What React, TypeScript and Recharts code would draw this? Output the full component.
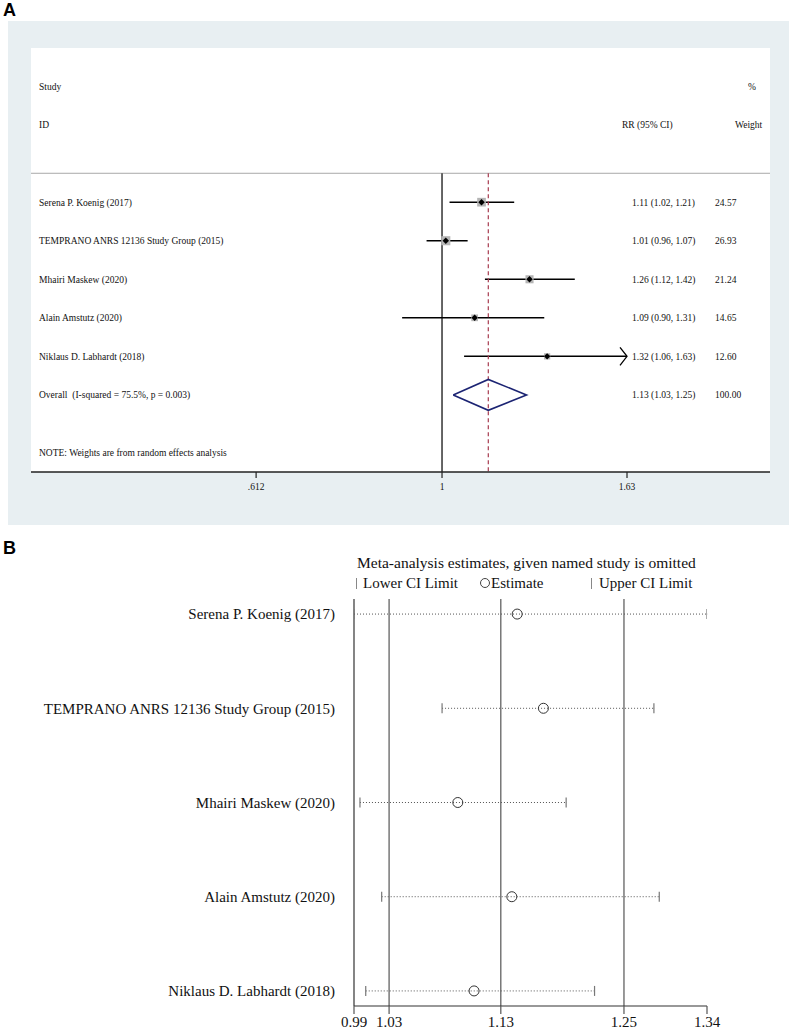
import React from "react";
import {
  ScatterChart,
  Scatter,
  XAxis,
  YAxis,
  ReferenceLine,
  ErrorBar,
  Legend,
} from "recharts";

const SERIF = '"Liberation Serif", "Times New Roman", serif';
const SANS = '"Liberation Sans", Arial, sans-serif';

// ---- panel A: forest plot ----
const studies = [
  "Serena P. Koenig (2017)",
  "TEMPRANO ANRS 12136 Study Group (2015)",
  "Mhairi Maskew (2020)",
  "Alain Amstutz (2020)",
  "Niklaus D. Labhardt (2018)",
];
const rr = [1.11, 1.01, 1.26, 1.09, 1.32];
const rrLower = [1.02, 0.96, 1.12, 0.9, 1.06];
const rrUpper = [1.21, 1.07, 1.42, 1.31, 1.63];
const weights = [24.57, 26.93, 21.24, 14.65, 12.6];

const overallRR = 1.13;
const overallLower = 1.03;
const overallUpper = 1.25;
const overallLabel = "Overall  (I-squared = 75.5%, p = 0.003)";
const noteText = "NOTE: Weights are from random effects analysis";

const forestTicks = [0.612, 1, 1.63];
const forestDomain = [0.3377, 2.378];

// ---- panel B: leave-one-out ----
const omitEstimate = [1.1507, 1.1762, 1.093, 1.1455, 1.1088];
const omitLower = [0.9921, 1.0777, 0.9979, 1.019, 1.0035];
const omitUpper = [1.3352, 1.2836, 1.1983, 1.2888, 1.2259];
const pooledB = [1.0262, 1.1348, 1.2545];

const COL = { left: 39, ci: 632, wt: 715, ciHead: 622, wtHead: 735, pct: 748 };

const fmtCI = (e: number, l: number, u: number) =>
  `${e.toFixed(2)} (${l.toFixed(2)}, ${u.toFixed(2)})`;

const overallRow = studies.length + 1;

const forestRows = studies.map((_, i) => ({
  x: rr[i],
  y: i + 1,
  w: weights[i],
  err: [rr[i] - rrLower[i], rrUpper[i] - rr[i]],
}));

const textRows: any[] = [
  { x: 1, y: -2, left: "Study", pct: "%" },
  { x: 1, y: -1, left: "ID", ciHead: "RR (95% CI)", wtHead: "Weight" },
  ...studies.map((name, i) => ({
    x: 1,
    y: i + 1,
    left: name,
    ci: fmtCI(rr[i], rrLower[i], rrUpper[i]),
    wt: weights[i].toFixed(2),
  })),
  {
    x: 1,
    y: overallRow,
    left: overallLabel,
    ci: fmtCI(overallRR, overallLower, overallUpper),
    wt: "100.00",
  },
  { x: 1, y: overallRow + 1.5, left: noteText },
];

const arrowPts = forestRows
  .filter((r, i) => rrUpper[i] >= forestTicks[forestTicks.length - 1])
  .map((r) => ({ x: r.x + r.err[1], y: r.y }));

const dh = 0.4;
const diamondPts = [
  { x: overallLower, y: overallRow },
  { x: overallRR, y: overallRow - dh },
  { x: overallUpper, y: overallRow },
  { x: overallRR, y: overallRow + dh },
  { x: overallLower, y: overallRow },
];

const omitRows = studies.map((_, i) => ({
  x: omitEstimate[i],
  y: i + 1,
  err: [omitEstimate[i] - omitLower[i], omitUpper[i] - omitEstimate[i]],
}));
const capPts = studies.flatMap((_, i) => [
  { x: omitLower[i], y: i + 1 },
  { x: omitUpper[i], y: i + 1 },
]);
const bDomain = [Math.min(...omitLower), Math.max(...omitUpper)];
const bTicks = [bDomain[0], ...pooledB, bDomain[1]];

const fmtForestTick = (v: number) =>
  v < 1 ? String(v).replace(/^0/, "") : String(v);

const TextRow = (p: any) => {
  const d = p.payload;
  const cols = ["left", "ci", "wt", "ciHead", "wtHead", "pct"] as const;
  return (
    <g fontFamily={SERIF} fontSize={9.5} fill="#111">
      {cols.map((k) =>
        d[k] ? (
          <text key={k} x={COL[k]} y={p.cy} dy="0.35em" xmlSpace="preserve">
            {d[k]}
          </text>
        ) : null
      )}
    </g>
  );
};

const StudyBox = (p: any) => {
  const s = 1.75 * Math.sqrt(p.payload.w);
  const d = 3.2;
  return (
    <g>
      <rect x={p.cx - s / 2} y={p.cy - s / 2} width={s} height={s} fill="#b5b5b5" />
      <path
        d={`M${p.cx - d},${p.cy} L${p.cx},${p.cy - d} L${p.cx + d},${p.cy} L${p.cx},${p.cy + d} Z`}
        fill="#000"
      />
    </g>
  );
};

const Arrowhead = (p: any) => (
  <path
    d={`M${p.cx - 7},${p.cy - 9} L${p.cx},${p.cy} L${p.cx - 7},${p.cy + 9}`}
    fill="none"
    stroke="#000"
    strokeWidth={1.3}
  />
);

const Empty = () => <g />;

const OpenCircle = (p: any) => (
  <circle cx={p.cx} cy={p.cy} r={5} fill="none" stroke="#333" strokeWidth={1} />
);

const CapTick = (p: any) => (
  <line x1={p.cx} x2={p.cx} y1={p.cy - 5} y2={p.cy + 5} stroke="#777" strokeWidth={1.2} />
);

const StudyTick = (p: any) => (
  <text
    x={p.x}
    y={p.y}
    dy="0.35em"
    textAnchor="end"
    fontFamily={SERIF}
    fontSize={15}
    fill="#111"
  >
    {studies[p.payload.value - 1]}
  </text>
);

const LegendBox = () => (
  <div
    style={{
      position: "relative",
      width: 789,
      height: 70,
      fontFamily: SERIF,
      fontSize: 15,
      color: "#111",
      lineHeight: "20px",
      whiteSpace: "nowrap",
    }}
  >
    <div style={{ position: "absolute", left: 357, top: 23, fontSize: 15.5 }}>
      Meta-analysis estimates, given named study is omitted
    </div>
    <div style={{ position: "absolute", left: 356, top: 43 }}>
      <span style={{ display: "inline-block", width: 1, height: 11, background: "#888", marginRight: 6, verticalAlign: -1 }} />
      Lower CI Limit
    </div>
    <div style={{ position: "absolute", left: 480, top: 43 }}>
      <span style={{ display: "inline-block", width: 8, height: 8, border: "1px solid #444", borderRadius: "50%", marginRight: 1, verticalAlign: 0 }} />
      Estimate
    </div>
    <div style={{ position: "absolute", left: 591, top: 43 }}>
      <span style={{ display: "inline-block", width: 1, height: 11, background: "#888", marginRight: 7, verticalAlign: -1 }} />
      Upper CI Limit
    </div>
  </div>
);

export default function App() {
  return (
    <div style={{ position: "absolute", left: 0, top: 0, width: 789, height: 1032, background: "#fff" }}>
      <div style={{ position: "absolute", left: 3, top: 0, fontFamily: SANS, fontWeight: 700, fontSize: 18 }}>A</div>
      <div style={{ position: "absolute", left: 3, top: 538, fontFamily: SANS, fontWeight: 700, fontSize: 18 }}>B</div>

      <div style={{ position: "absolute", left: 8, top: 21, width: 781, height: 504, background: "#e8eff2" }} />
      <div style={{ position: "absolute", left: 31, top: 48, width: 739, height: 424, background: "#fff" }} />

      <div style={{ position: "absolute", left: 0, top: 0 }}>
        <ScatterChart width={789} height={530} margin={{ top: 48, right: 19, bottom: 28, left: 31 }}>
          <XAxis
            type="number"
            dataKey="x"
            scale="log"
            domain={forestDomain}
            allowDataOverflow
            ticks={forestTicks}
            interval={0}
            tickFormatter={fmtForestTick}
            height={30}
            tickSize={6}
            tickMargin={5}
            axisLine={{ stroke: "#222", strokeWidth: 1.5 }}
            tickLine={{ stroke: "#222", strokeWidth: 1.2 }}
            tick={{ fill: "#111", fontSize: 9.5, fontFamily: SERIF }}
          />
          <YAxis type="number" dataKey="y" domain={[-3, 8]} reversed allowDataOverflow hide />
          <ReferenceLine y={0.25} stroke="#a8a8a8" strokeWidth={1} />
          <ReferenceLine
            segment={[{ x: 1, y: 0.25 }, { x: 1, y: 8 }]}
            stroke="#333"
            strokeWidth={1.5}
            ifOverflow="visible"
          />
          <Scatter data={textRows} shape={TextRow} isAnimationActive={false} />
          <Scatter data={forestRows} shape={StudyBox} isAnimationActive={false}>
            <ErrorBar dataKey="err" direction="x" width={0} stroke="#000" strokeWidth={1.5} isAnimationActive={false} />
          </Scatter>
          <Scatter data={arrowPts} shape={Arrowhead} isAnimationActive={false} />
          <Scatter
            data={diamondPts}
            line={{ stroke: "#1c2473", strokeWidth: 1.6 }}
            shape={Empty}
            isAnimationActive={false}
          />
          <ReferenceLine
            segment={[{ x: overallRR, y: 0.25 }, { x: overallRR, y: 8 }]}
            stroke="#a83c50"
            strokeWidth={1.2}
            strokeDasharray="4 3"
            ifOverflow="visible"
          />
        </ScatterChart>
      </div>

      <div style={{ position: "absolute", left: 0, top: 530 }}>
        <ScatterChart width={789} height={502} margin={{ top: 69, right: 82, bottom: 0, left: 154 }}>
          <XAxis
            type="number"
            dataKey="x"
            domain={bDomain}
            allowDataOverflow
            ticks={bTicks}
            interval={0}
            tickFormatter={(v: number) => v.toFixed(2)}
            height={26}
            tickSize={8}
            tickMargin={2}
            axisLine={{ stroke: "#333", strokeWidth: 1.2 }}
            tickLine={{ stroke: "#555", strokeWidth: 1.2 }}
            tick={{ fill: "#111", fontSize: 15, fontFamily: SERIF }}
          />
          <YAxis
            type="number"
            dataKey="y"
            domain={[0.84, 5.16]}
            reversed
            allowDataOverflow
            ticks={[1, 2, 3, 4, 5]}
            interval={0}
            width={200}
            tickSize={0}
            tickMargin={19}
            axisLine={{ stroke: "#333", strokeWidth: 1.2 }}
            tickLine={false}
            tick={StudyTick}
          />
          {pooledB.map((v) => (
            <ReferenceLine key={v} x={v} stroke="#555" strokeWidth={1.2} />
          ))}
          <Scatter data={omitRows} shape={OpenCircle} isAnimationActive={false}>
            <ErrorBar
              dataKey="err"
              direction="x"
              width={0}
              stroke="#555"
              strokeWidth={1}
              strokeDasharray="1 2"
              isAnimationActive={false}
            />
          </Scatter>
          <Scatter data={capPts} shape={CapTick} isAnimationActive={false} />
          <Legend
            layout="vertical"
            align="center"
            verticalAlign="middle"
            wrapperStyle={{ top: 0, left: 0, width: 789, height: 70 }}
            content={() => <LegendBox />}
          />
        </ScatterChart>
      </div>
    </div>
  );
}
